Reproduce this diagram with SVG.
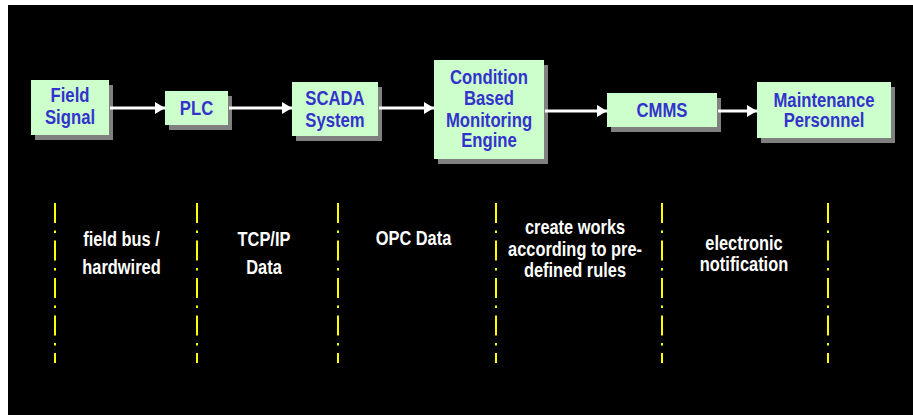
<svg xmlns="http://www.w3.org/2000/svg" width="913" height="415" viewBox="0 0 913 415">
<defs>
<style>
.shadow{fill:#808080}
.box{fill:#CCFFCC}
.nt{font-family:"Liberation Sans",Arial,sans-serif;font-weight:bold;font-size:16.7px;fill:#3333CC;text-anchor:middle}
.lt{font-family:"Liberation Sans",Arial,sans-serif;font-weight:bold;font-size:16.4px;fill:#FFFFFF;text-anchor:middle}
.conn{stroke:#FFFFFF;stroke-width:3;fill:none;marker-end:url(#ah)}
.sep{stroke:#FFFF00;stroke-width:2;stroke-dasharray:20 7.5 2.5 7.5;fill:none}
</style>
<marker id="ah" viewBox="0 0 10 12" markerUnits="userSpaceOnUse" markerWidth="10" markerHeight="12" refX="10" refY="6" orient="auto">
<path d="M0,0 L10,6 L0,12 Z" fill="#FFFFFF"/>
</marker>
</defs>
<rect x="0" y="0" width="913" height="415" fill="#FFFFFF"/>
<rect x="8" y="5" width="905" height="410" fill="#000000"/>

<g id="field-signal">
<rect class="shadow" x="35" y="85" width="78" height="55"/>
<rect class="box" x="31" y="80" width="78" height="55"/>
<text class="nt" transform="matrix(1 0 0 1.2 70 102.3)">Field</text>
<text class="nt" transform="matrix(1 0 0 1.2 70 124)">Signal</text>
</g>
<g id="plc">
<rect class="shadow" x="169" y="96" width="63" height="34"/>
<rect class="box" x="165" y="91" width="63" height="34"/>
<text class="nt" transform="matrix(1 0 0 1.2 196.5 115)">PLC</text>
</g>
<g id="scada">
<rect class="shadow" x="296" y="87" width="86" height="54"/>
<rect class="box" x="292" y="82" width="86" height="54"/>
<text class="nt" transform="matrix(1 0 0 1.2 335 105)">SCADA</text>
<text class="nt" transform="matrix(1 0 0 1.2 335 126.7)">System</text>
</g>
<g id="cbm-engine">
<rect class="shadow" x="438" y="65" width="110" height="99"/>
<rect class="box" x="434" y="60" width="110" height="99"/>
<text class="nt" transform="matrix(1 0 0 1.2 489 84.3)">Condition</text>
<text class="nt" transform="matrix(1 0 0 1.2 489 104.8)">Based</text>
<text class="nt" transform="matrix(1 0 0 1.2 489 126.5)">Monitoring</text>
<text class="nt" transform="matrix(1 0 0 1.2 489 147.3)">Engine</text>
</g>
<g id="cmms">
<rect class="shadow" x="611" y="98" width="110" height="34"/>
<rect class="box" x="607" y="93" width="110" height="34"/>
<text class="nt" transform="matrix(1 0 0 1.2 662 116.7)">CMMS</text>
</g>
<g id="maintenance-personnel">
<rect class="shadow" x="761" y="87" width="134" height="56"/>
<rect class="box" x="757" y="82" width="134" height="56"/>
<text class="nt" transform="matrix(1 0 0 1.2 824 106.7)">Maintenance</text>
<text class="nt" transform="matrix(1 0 0 1.2 824 127.3)">Personnel</text>
</g>

<g id="connectors">
<line class="conn" x1="110" y1="108" x2="165" y2="108"/>
<line class="conn" x1="229" y1="108" x2="292" y2="108"/>
<line class="conn" x1="379" y1="108" x2="434" y2="108"/>
<line class="conn" x1="545" y1="111" x2="607" y2="111"/>
<line class="conn" x1="718" y1="111" x2="757" y2="111"/>
</g>

<g id="separators">
<line class="sep" x1="55" y1="203" x2="55" y2="363"/>
<line class="sep" x1="197" y1="203" x2="197" y2="363"/>
<line class="sep" x1="338" y1="203" x2="338" y2="363"/>
<line class="sep" x1="496" y1="203" x2="496" y2="363"/>
<line class="sep" x1="662" y1="203" x2="662" y2="363"/>
<line class="sep" x1="828" y1="203" x2="828" y2="363"/>
</g>

<g id="labels">
<text class="lt" transform="matrix(1 0 0 1.2 121.5 246)">field bus /</text>
<text class="lt" transform="matrix(1 0 0 1.2 121.5 274)">hardwired</text>
<text class="lt" transform="matrix(1 0 0 1.2 264 246)">TCP/IP</text>
<text class="lt" transform="matrix(1 0 0 1.2 264 274)">Data</text>
<text class="lt" transform="matrix(1 0 0 1.2 413.5 245)">OPC Data</text>
<text class="lt" transform="matrix(1 0 0 1.2 575 234.3)">create works</text>
<text class="lt" transform="matrix(1 0 0 1.2 575 255.7)">according to pre-</text>
<text class="lt" transform="matrix(1 0 0 1.2 575 276.7)">defined rules</text>
<text class="lt" transform="matrix(1 0 0 1.2 744 250)">electronic</text>
<text class="lt" transform="matrix(1 0 0 1.2 744 270.7)">notification</text>
</g>
</svg>
